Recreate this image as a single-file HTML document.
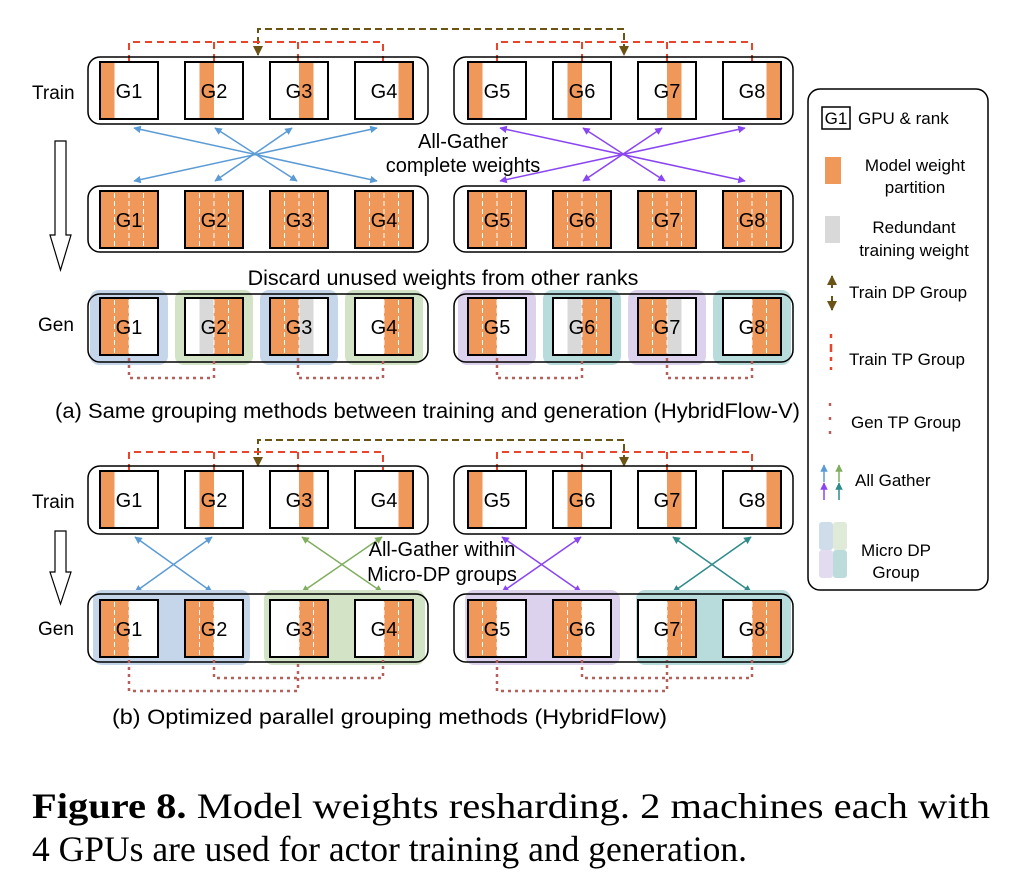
<!DOCTYPE html>
<html><head><meta charset="utf-8"><style>
html,body{margin:0;padding:0;background:#fff;}
svg{display:block;}
text{font-family:"Liberation Sans",Arial,sans-serif;fill:#000;}
</style></head><body>
<svg width="1018" height="894" viewBox="0 0 1018 894" xmlns="http://www.w3.org/2000/svg">
<defs>
<marker id="mb" viewBox="0 0 10 10" refX="9" refY="5" markerWidth="5" markerHeight="5" orient="auto-start-reverse"><path d="M0,0L10,5L0,10z" fill="#5b9bd5"/></marker>
<marker id="mp" viewBox="0 0 10 10" refX="9" refY="5" markerWidth="5" markerHeight="5" orient="auto-start-reverse"><path d="M0,0L10,5L0,10z" fill="#8a45f2"/></marker>
<marker id="mg" viewBox="0 0 10 10" refX="9" refY="5" markerWidth="5" markerHeight="5" orient="auto-start-reverse"><path d="M0,0L10,5L0,10z" fill="#7fae5f"/></marker>
<marker id="mt" viewBox="0 0 10 10" refX="9" refY="5" markerWidth="5" markerHeight="5" orient="auto-start-reverse"><path d="M0,0L10,5L0,10z" fill="#2f8a8a"/></marker>
<marker id="mbr" viewBox="0 0 10 10" refX="9" refY="5" markerWidth="5" markerHeight="5" orient="auto-start-reverse"><path d="M0,0L10,5L0,10z" fill="#6b5316"/></marker>
</defs>

<path d="M258,55 L258,29 L624,29 L624,55" fill="none" stroke="#6b5316" stroke-width="2" stroke-dasharray="7,4" marker-start="url(#mbr)" marker-end="url(#mbr)"/>
<g fill="none" stroke="#e8452a" stroke-width="2">
<path d="M129,62V42H383V62M214,42V62M298,42V62" stroke-dasharray="7,5"/>
<path d="M497,62V42H752V62M582,42V62M667,42V62" stroke-dasharray="7,5"/>
</g>
<rect x="88" y="57" width="340" height="67" rx="12" fill="none" stroke="#000" stroke-width="1.5"/>
<rect x="454" y="57" width="339" height="67" rx="12" fill="none" stroke="#000" stroke-width="1.5"/>
<g fill="#f0975a">
<rect x="100" y="62" width="14.5" height="57"/><rect x="199.5" y="62" width="14.5" height="57"/><rect x="299" y="62" width="14.5" height="57"/><rect x="398.5" y="62" width="14.5" height="57"/>
<rect x="468" y="62" width="14.5" height="57"/><rect x="567.5" y="62" width="14.5" height="57"/><rect x="667" y="62" width="14.5" height="57"/><rect x="766.5" y="62" width="14.5" height="57"/>
</g>
<g fill="none" stroke="#000" stroke-width="2">
<rect x="100" y="62" width="58" height="57"/><rect x="185" y="62" width="58" height="57"/><rect x="270" y="62" width="58" height="57"/><rect x="355" y="62" width="58" height="57"/>
<rect x="468" y="62" width="58" height="57"/><rect x="553" y="62" width="58" height="57"/><rect x="638" y="62" width="58" height="57"/><rect x="723" y="62" width="58" height="57"/>
</g>
<g font-size="20" text-anchor="middle">
<text x="129" y="98">G1</text><text x="214" y="98">G2</text><text x="299" y="98">G3</text><text x="384" y="98">G4</text>
<text x="497" y="98">G5</text><text x="582" y="98">G6</text><text x="667" y="98">G7</text><text x="752" y="98">G8</text>
</g>
<text x="32" y="99" font-size="19">Train</text>

<g stroke="#5b9bd5" stroke-width="1.5" fill="none" marker-start="url(#mb)" marker-end="url(#mb)">
<line x1="134" y1="128" x2="377" y2="181"/><line x1="215" y1="128" x2="297" y2="181"/>
<line x1="292" y1="128" x2="215" y2="181"/><line x1="377" y1="128" x2="134" y2="181"/>
</g>
<g stroke="#8a45f2" stroke-width="1.5" fill="none" marker-start="url(#mp)" marker-end="url(#mp)">
<line x1="500" y1="128" x2="745" y2="181"/><line x1="583" y1="128" x2="665" y2="181"/>
<line x1="662" y1="128" x2="583" y2="181"/><line x1="745" y1="128" x2="500" y2="181"/>
</g>
<g font-size="20" text-anchor="middle"><text x="463" y="148">All-Gather</text><text x="463" y="172">complete weights</text></g>

<rect x="88" y="186" width="340" height="66" rx="12" fill="none" stroke="#000" stroke-width="1.5"/>
<rect x="454" y="186" width="339" height="66" rx="12" fill="none" stroke="#000" stroke-width="1.5"/>
<g fill="#f0975a" stroke="#000" stroke-width="2">
<rect x="100" y="191" width="58" height="57"/><rect x="185" y="191" width="58" height="57"/><rect x="270" y="191" width="58" height="57"/><rect x="355" y="191" width="58" height="57"/>
<rect x="468" y="191" width="58" height="57"/><rect x="553" y="191" width="58" height="57"/><rect x="638" y="191" width="58" height="57"/><rect x="723" y="191" width="58" height="57"/>
</g>
<g stroke="#fff" stroke-width="1" stroke-dasharray="5,3">
<path d="M114.5,193V246M129,193V246M143.5,193V246M199.5,193V246M214,193V246M228.5,193V246M284.5,193V246M299,193V246M313.5,193V246M369.5,193V246M384,193V246M398.5,193V246"/>
<path d="M482.5,193V246M497,193V246M511.5,193V246M567.5,193V246M582,193V246M596.5,193V246M652.5,193V246M667,193V246M681.5,193V246M737.5,193V246M752,193V246M766.5,193V246"/>
</g>
<g font-size="20" text-anchor="middle">
<text x="129" y="227">G1</text><text x="214" y="227">G2</text><text x="299" y="227">G3</text><text x="384" y="227">G4</text>
<text x="497" y="227">G5</text><text x="582" y="227">G6</text><text x="667" y="227">G7</text><text x="752" y="227">G8</text>
</g>
<text x="443" y="285" font-size="21.5" text-anchor="middle">Discard unused  weights from other ranks</text>

<path d="M55,141H66V235H71L60.5,270L50,235H55Z" fill="#fff" stroke="#000" stroke-width="1.2"/>

<g>
<rect x="90" y="290" width="78" height="75" rx="9" fill="#c5d6ea"/>
<rect x="175" y="290" width="78" height="75" rx="9" fill="#d3e3c6"/>
<rect x="260" y="290" width="78" height="75" rx="9" fill="#c5d6ea"/>
<rect x="345" y="290" width="78" height="75" rx="9" fill="#d3e3c6"/>
<rect x="458" y="290" width="78" height="75" rx="9" fill="#ddd2ee"/>
<rect x="543" y="290" width="78" height="75" rx="9" fill="#b8dcdc"/>
<rect x="628" y="290" width="78" height="75" rx="9" fill="#ddd2ee"/>
<rect x="713" y="290" width="78" height="75" rx="9" fill="#b8dcdc"/>
</g>
<rect x="88" y="294" width="340" height="68" rx="12" fill="none" stroke="#000" stroke-width="1.5"/>
<rect x="454" y="294" width="339" height="68" rx="12" fill="none" stroke="#000" stroke-width="1.5"/>
<g fill="#fff">
<rect x="100" y="298" width="58" height="57"/><rect x="185" y="298" width="58" height="57"/><rect x="270" y="298" width="58" height="57"/><rect x="355" y="298" width="58" height="57"/>
<rect x="468" y="298" width="58" height="57"/><rect x="553" y="298" width="58" height="57"/><rect x="638" y="298" width="58" height="57"/><rect x="723" y="298" width="58" height="57"/>
</g>
<g fill="#f0975a">
<rect x="100" y="298" width="29" height="57"/><rect x="214" y="298" width="29" height="57"/><rect x="270" y="298" width="29" height="57"/><rect x="384" y="298" width="29" height="57"/>
<rect x="468" y="298" width="29" height="57"/><rect x="582" y="298" width="29" height="57"/><rect x="638" y="298" width="29" height="57"/><rect x="752" y="298" width="29" height="57"/>
</g>
<g fill="#d9d9d9">
<rect x="199.5" y="298" width="14.5" height="57"/><rect x="299" y="298" width="14.5" height="57"/>
<rect x="567.5" y="298" width="14.5" height="57"/><rect x="667" y="298" width="14.5" height="57"/>
</g>
<g stroke="#fff" stroke-width="1" stroke-dasharray="5,3">
<path d="M114.5,300V353M129,300V353M214,300V353M228.5,300V353M284.5,300V353M299,300V353M384,300V353M398.5,300V353"/>
<path d="M482.5,300V353M497,300V353M582,300V353M596.5,300V353M652.5,300V353M667,300V353M752,300V353M766.5,300V353"/>
</g>
<g fill="none" stroke="#000" stroke-width="2">
<rect x="100" y="298" width="58" height="57"/><rect x="185" y="298" width="58" height="57"/><rect x="270" y="298" width="58" height="57"/><rect x="355" y="298" width="58" height="57"/>
<rect x="468" y="298" width="58" height="57"/><rect x="553" y="298" width="58" height="57"/><rect x="638" y="298" width="58" height="57"/><rect x="723" y="298" width="58" height="57"/>
</g>
<g font-size="20" text-anchor="middle">
<text x="129" y="334">G1</text><text x="214" y="334">G2</text><text x="299" y="334">G3</text><text x="384" y="334">G4</text>
<text x="497" y="334">G5</text><text x="582" y="334">G6</text><text x="667" y="334">G7</text><text x="752" y="334">G8</text>
</g>
<text x="38" y="331" font-size="19">Gen</text>
<g fill="none" stroke="#b5605a" stroke-width="2.5" stroke-dasharray="3,4">
<path d="M129,358V378H214V358M298,358V378H383V358M497,358V378H582V358M667,358V378H752V358"/>
</g>
<text x="55" y="418" font-size="21" textLength="745" lengthAdjust="spacingAndGlyphs">(a) Same grouping methods between training and generation (HybridFlow-V)</text>

<path d="M258,466 L258,440 L624,440 L624,466" fill="none" stroke="#6b5316" stroke-width="2" stroke-dasharray="7,4" marker-start="url(#mbr)" marker-end="url(#mbr)"/>
<g fill="none" stroke="#e8452a" stroke-width="2" stroke-dasharray="7,5">
<path d="M129,471V452H383V471M214,452V471M298,452V471"/>
<path d="M497,471V452H752V471M582,452V471M667,452V471"/>
</g>
<rect x="88" y="466" width="340" height="68" rx="12" fill="none" stroke="#000" stroke-width="1.5"/>
<rect x="454" y="466" width="339" height="68" rx="12" fill="none" stroke="#000" stroke-width="1.5"/>
<g fill="#f0975a">
<rect x="100" y="471" width="14.5" height="57"/><rect x="199.5" y="471" width="14.5" height="57"/><rect x="299" y="471" width="14.5" height="57"/><rect x="398.5" y="471" width="14.5" height="57"/>
<rect x="468" y="471" width="14.5" height="57"/><rect x="567.5" y="471" width="14.5" height="57"/><rect x="667" y="471" width="14.5" height="57"/><rect x="766.5" y="471" width="14.5" height="57"/>
</g>
<g fill="none" stroke="#000" stroke-width="2">
<rect x="100" y="471" width="58" height="57"/><rect x="185" y="471" width="58" height="57"/><rect x="270" y="471" width="58" height="57"/><rect x="355" y="471" width="58" height="57"/>
<rect x="468" y="471" width="58" height="57"/><rect x="553" y="471" width="58" height="57"/><rect x="638" y="471" width="58" height="57"/><rect x="723" y="471" width="58" height="57"/>
</g>
<g font-size="20" text-anchor="middle">
<text x="129" y="507">G1</text><text x="214" y="507">G2</text><text x="299" y="507">G3</text><text x="384" y="507">G4</text>
<text x="497" y="507">G5</text><text x="582" y="507">G6</text><text x="667" y="507">G7</text><text x="752" y="507">G8</text>
</g>
<text x="32" y="508" font-size="19">Train</text>
<path d="M55,531H66V572H71L60.5,604L50,572H55Z" fill="#fff" stroke="#000" stroke-width="1.2"/>

<g stroke-width="1.5" fill="none">
<g stroke="#5b9bd5" marker-start="url(#mb)" marker-end="url(#mb)"><line x1="135" y1="537" x2="212" y2="592"/><line x1="212" y1="537" x2="135" y2="592"/></g>
<g stroke="#7fae5f" marker-start="url(#mg)" marker-end="url(#mg)"><line x1="302" y1="537" x2="382" y2="592"/><line x1="382" y1="537" x2="302" y2="592"/></g>
<g stroke="#8a45f2" marker-start="url(#mp)" marker-end="url(#mp)"><line x1="502" y1="537" x2="581" y2="592"/><line x1="581" y1="537" x2="502" y2="592"/></g>
<g stroke="#2f8a8a" marker-start="url(#mt)" marker-end="url(#mt)"><line x1="673" y1="537" x2="751" y2="592"/><line x1="751" y1="537" x2="673" y2="592"/></g>
</g>
<g font-size="20" text-anchor="middle"><text x="442" y="556">All-Gather within</text><text x="442" y="581">Micro-DP groups</text></g>

<rect x="93" y="590" width="157" height="75" rx="9" fill="#c5d6ea"/>
<rect x="264" y="590" width="161" height="75" rx="9" fill="#d3e3c6"/>
<rect x="465" y="590" width="155" height="75" rx="9" fill="#ddd2ee"/>
<rect x="636" y="590" width="155" height="75" rx="9" fill="#b8dcdc"/>
<rect x="88" y="594" width="340" height="68" rx="12" fill="none" stroke="#000" stroke-width="1.5"/>
<rect x="454" y="594" width="339" height="68" rx="12" fill="none" stroke="#000" stroke-width="1.5"/>
<g fill="#fff">
<rect x="100" y="600" width="58" height="57"/><rect x="185" y="600" width="58" height="57"/><rect x="270" y="600" width="58" height="57"/><rect x="355" y="600" width="58" height="57"/>
<rect x="468" y="600" width="58" height="57"/><rect x="553" y="600" width="58" height="57"/><rect x="638" y="600" width="58" height="57"/><rect x="723" y="600" width="58" height="57"/>
</g>
<g fill="#f0975a">
<rect x="100" y="600" width="29" height="57"/><rect x="185" y="600" width="29" height="57"/><rect x="299" y="600" width="29" height="57"/><rect x="384" y="600" width="29" height="57"/>
<rect x="468" y="600" width="29" height="57"/><rect x="553" y="600" width="29" height="57"/><rect x="667" y="600" width="29" height="57"/><rect x="752" y="600" width="29" height="57"/>
</g>
<g stroke="#fff" stroke-width="1" stroke-dasharray="5,3">
<path d="M114.5,602V655M129,602V655M199.5,602V655M214,602V655M299,602V655M313.5,602V655M384,602V655M398.5,602V655"/>
<path d="M482.5,602V655M497,602V655M567.5,602V655M582,602V655M667,602V655M681.5,602V655M752,602V655M766.5,602V655"/>
</g>
<g fill="none" stroke="#000" stroke-width="2">
<rect x="100" y="600" width="58" height="57"/><rect x="185" y="600" width="58" height="57"/><rect x="270" y="600" width="58" height="57"/><rect x="355" y="600" width="58" height="57"/>
<rect x="468" y="600" width="58" height="57"/><rect x="553" y="600" width="58" height="57"/><rect x="638" y="600" width="58" height="57"/><rect x="723" y="600" width="58" height="57"/>
</g>
<g font-size="20" text-anchor="middle">
<text x="129" y="636">G1</text><text x="214" y="636">G2</text><text x="299" y="636">G3</text><text x="384" y="636">G4</text>
<text x="497" y="636">G5</text><text x="582" y="636">G6</text><text x="667" y="636">G7</text><text x="752" y="636">G8</text>
</g>
<text x="38" y="635" font-size="19">Gen</text>
<g fill="none" stroke="#b5605a" stroke-width="2.5" stroke-dasharray="3,4">
<path d="M129,660V691H298V660M214,660V678H383V660M497,660V691H667V660M582,660V678H752V660"/>
</g>
<text x="112" y="724" font-size="21" textLength="555" lengthAdjust="spacingAndGlyphs">(b) Optimized parallel grouping methods (HybridFlow)</text>

<rect x="808" y="89" width="180" height="501" rx="12" fill="#fff" stroke="#000" stroke-width="1.5"/>
<rect x="822" y="107" width="28" height="22" fill="none" stroke="#000" stroke-width="1.5"/>
<text x="836" y="124" font-size="17" text-anchor="middle">G1</text>
<text x="858" y="124" font-size="17">GPU &amp; rank</text>
<rect x="825" y="157" width="16" height="27" fill="#f0975a"/>
<g font-size="17" text-anchor="middle"><text x="915" y="171">Model weight</text><text x="915" y="193">partition</text></g>
<rect x="825" y="216" width="15" height="27" fill="#d9d9d9"/>
<g font-size="17" text-anchor="middle"><text x="914" y="233">Redundant</text><text x="914" y="256">training weight</text></g>
<line x1="832" y1="276" x2="832" y2="288" stroke="#6b5316" stroke-width="2" marker-start="url(#mbr)"/>
<line x1="832" y1="296" x2="832" y2="310" stroke="#6b5316" stroke-width="2" marker-end="url(#mbr)"/>
<text x="849" y="298" font-size="17">Train DP Group</text>
<line x1="831" y1="334" x2="831" y2="370" stroke="#e8452a" stroke-width="2.5" stroke-dasharray="4,6,8,5"/>
<text x="849" y="365" font-size="17">Train TP Group</text>
<line x1="830" y1="403" x2="830" y2="440" stroke="#b5605a" stroke-width="2.5" stroke-dasharray="3,11"/>
<text x="851" y="428" font-size="17">Gen TP Group</text>
<line x1="824" y1="482" x2="824" y2="465" stroke="#5b9bd5" stroke-width="1.5" marker-end="url(#mb)"/>
<line x1="839" y1="482" x2="839" y2="465" stroke="#7fae5f" stroke-width="1.5" marker-end="url(#mg)"/>
<line x1="824" y1="500" x2="824" y2="483" stroke="#8a45f2" stroke-width="1.5" marker-end="url(#mp)"/>
<line x1="839" y1="500" x2="839" y2="483" stroke="#2f8a8a" stroke-width="1.5" marker-end="url(#mt)"/>
<text x="855" y="486" font-size="17">All Gather</text>
<rect x="819" y="522" width="14" height="28" rx="3" fill="#cfdcea"/>
<rect x="833" y="522" width="14" height="28" rx="3" fill="#e0ead8"/>
<rect x="819" y="550" width="14" height="28" rx="3" fill="#e3dcf0"/>
<rect x="833" y="550" width="14" height="28" rx="3" fill="#bcdcdc"/>
<g font-size="17" text-anchor="middle"><text x="896" y="556">Micro DP</text><text x="896" y="578">Group</text></g>

<text x="32" y="818" font-size="36" style="font-family:'Liberation Serif',serif" textLength="958" lengthAdjust="spacingAndGlyphs"><tspan font-weight="bold" style="font-family:'Liberation Serif',serif">Figure 8.</tspan><tspan style="font-family:'Liberation Serif',serif"> Model weights resharding. 2 machines each with</tspan></text>
<text x="32" y="861" font-size="36" style="font-family:'Liberation Serif',serif" textLength="715" lengthAdjust="spacingAndGlyphs">4 GPUs are used for actor training and generation.</text>
</svg>
</body></html>
